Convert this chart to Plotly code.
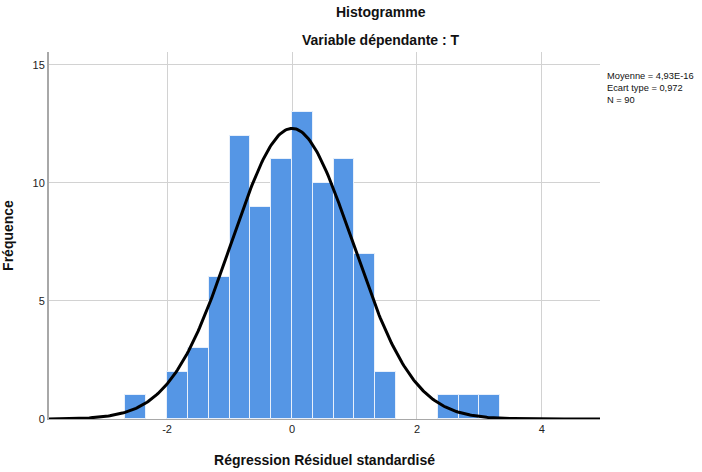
import numpy as np
import plotly.graph_objects as go

# Histogram data (bin width = 1/3, left edges in thirds)
bin_left_thirds = [-8, -6, -5, -4, -3, -2, -1, 0, 1, 2, 3, 4, 7, 8, 9]
counts = [1, 2, 3, 6, 12, 9, 11, 13, 10, 11, 7, 2, 1, 1, 1]
bin_width = 1 / 3

mean = 4.93e-16
sd = 0.972
n = 90

x_ticks = [-2, 0, 2, 4]
y_ticks = [0, 5, 10, 15]

centers = [(b + 0.5) * bin_width for b in bin_left_thirds]

xs = np.linspace(-3.89, 4.93, 400)
ys = n * bin_width / (sd * np.sqrt(2 * np.pi)) * np.exp(-0.5 * ((xs - mean) / sd) ** 2)

W, H = 702, 472
l, r, t, b = 49, 102, 52, 53
pw, ph = W - l - r, H - t - b

fig = go.Figure()
fig.add_trace(go.Bar(
    x=centers, y=counts, width=bin_width,
    marker=dict(color="#5596e5", line=dict(color="#e8f0fb", width=1)),
    hoverinfo="x+y", showlegend=False,
))
fig.add_trace(go.Scatter(
    x=xs, y=ys, mode="lines",
    line=dict(color="black", width=3),
    showlegend=False, hoverinfo="skip",
))

font_family = "Liberation Sans, Arial, sans-serif"
fig.update_layout(
    width=W, height=H,
    margin=dict(l=l, r=r, t=t, b=b, autoexpand=False),
    paper_bgcolor="white", plot_bgcolor="white",
    font=dict(family=font_family, size=11, color="#222"),
    bargap=0,
    xaxis=dict(
        range=[-3.89, 4.93], tickvals=x_ticks, ticktext=[str(v) for v in x_ticks],
        showgrid=True, gridcolor="#d2d2d2", gridwidth=1,
        showline=True, linecolor="#a8a8a8", linewidth=1,
        zeroline=False, ticks="", ticklen=0, automargin=False,
        title=dict(text="<b>Régression Résiduel standardisé</b>", font=dict(size=14, color="#111"), standoff=20),
    ),
    yaxis=dict(
        range=[0, 15.55], tickvals=y_ticks, ticktext=[str(v) for v in y_ticks],
        showgrid=True, gridcolor="#d2d2d2", gridwidth=1,
        showline=True, linecolor="#a8a8a8", linewidth=2,
        zeroline=False, ticks="", ticklen=0, automargin=False,
        title=dict(text="<b>Fréquence</b>", font=dict(size=14, color="#111"), standoff=17),
    ),
)

# annotations placed by page pixel centre
ann_specs = [
    ("<b>Histogramme</b>", 381, 12, "center", 14),
    ("<b>Variable dépendante : T</b>", 381, 40, "center", 14),
    ("Moyenne = 4,93E-16<br>Ecart type = 0,972<br>N = 90", 605, 88, "left", 9.3),
]
for text, px, py, anchor, size in ann_specs:
    fig.add_annotation(
        text=text, xref="paper", yref="paper",
        x=(px - l) / pw, y=1 - (py - t) / ph,
        xanchor=anchor, yanchor="middle", align="left",
        showarrow=False, font=dict(size=size, color="#111"),
    )

fig.write_html("out.html", config={"displayModeBar": False},
               post_script="document.body.style.margin='0';")
